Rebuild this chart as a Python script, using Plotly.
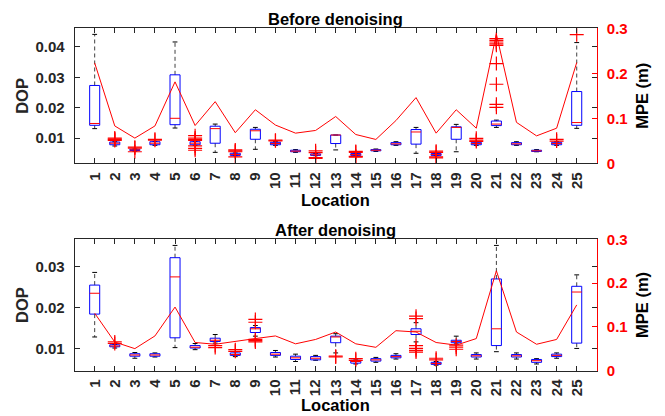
import plotly.graph_objects as go
from plotly.subplots import make_subplots

# ---------------- data ----------------
locations = list(range(1, 26))
tick_labels = [str(i) for i in locations]

# Before denoising (DOP box statistics)
b_q1  = [0.0142, 0.0078, 0.0059, 0.0078, 0.0144, 0.0078, 0.0083, 0.0043, 0.0096, 0.0078,
         0.0055, 0.0043, 0.0082, 0.0043, 0.0058, 0.0078, 0.0080, 0.0043, 0.0096, 0.0078,
         0.0141, 0.0078, 0.0056, 0.0078, 0.0142]
b_med = [0.0148, 0.0083, 0.0061, 0.0083, 0.0165, 0.0083, 0.0131, 0.0046, 0.0124, 0.0082,
         0.0057, 0.0045, 0.0110, 0.0046, 0.0060, 0.0081, 0.0120, 0.0046, 0.0135, 0.0082,
         0.0146, 0.0081, 0.0058, 0.0082, 0.0151]
b_q3  = [0.0273, 0.0087, 0.0063, 0.0088, 0.0308, 0.0088, 0.0139, 0.0050, 0.0129, 0.0086,
         0.0060, 0.0048, 0.0110, 0.0049, 0.0062, 0.0085, 0.0128, 0.0049, 0.0137, 0.0086,
         0.0156, 0.0085, 0.0060, 0.0086, 0.0253]
b_lo  = [0.0131, 0.0074, 0.0057, 0.0076, 0.0133, 0.0076, 0.0053, 0.0042, 0.0063, 0.0076,
         0.0053, 0.0042, 0.0061, 0.0042, 0.0056, 0.0076, 0.0050, 0.0042, 0.0055, 0.0076,
         0.0135, 0.0076, 0.0055, 0.0076, 0.0132]
b_hi  = [0.0441, 0.0088, 0.0064, 0.0089, 0.0416, 0.0089, 0.0146, 0.0051, 0.0135, 0.0088,
         0.0062, 0.0049, 0.0110, 0.0050, 0.0064, 0.0088, 0.0135, 0.0050, 0.0145, 0.0088,
         0.0159, 0.0088, 0.0062, 0.0088, 0.0414]
b_out = [[], [0.0092, 0.0095, 0.0097, 0.0100], [0.0070, 0.0067, 0.0055], [0.0093, 0.0096], [],
         [0.0108, 0.0100, 0.0095, 0.0092, 0.0074, 0.0066, 0.0060], [], [0.0058, 0.0061, 0.0055, 0.0038], [], [0.0091, 0.0093],
         [], [0.0058, 0.0052, 0.0036, 0.0033], [], [0.0053, 0.0056, 0.0040, 0.0037], [],
         [], [], [0.0057, 0.0053, 0.0038, 0.0035], [], [0.0099, 0.0093, 0.0089],
         [0.0427, 0.0421, 0.0416, 0.0410, 0.0405, 0.0345, 0.0277, 0.0211, 0.0201], [], [], [0.0096, 0.0090], [0.0440]]
b_mpe = [0.223, 0.083, 0.056, 0.083, 0.181, 0.084, 0.137, 0.068, 0.119, 0.085,
         0.067, 0.073, 0.104, 0.064, 0.053, 0.095, 0.146, 0.067, 0.119, 0.078,
         0.287, 0.091, 0.061, 0.078, 0.224]

# After denoising (DOP box statistics)
a_q1  = [0.0184, 0.0104, 0.0081, 0.0081, 0.0126, 0.0101, 0.0117, 0.0083, 0.0139, 0.0083,
         0.0073, 0.0072, 0.0114, 0.0064, 0.0069, 0.0077, 0.0134, 0.0061, 0.0114, 0.0079,
         0.0107, 0.0079, 0.0066, 0.0080, 0.0113]
a_med = [0.0235, 0.0106, 0.0084, 0.0084, 0.0275, 0.0103, 0.0120, 0.0085, 0.0148, 0.0086,
         0.0077, 0.0076, 0.0128, 0.0068, 0.0072, 0.0080, 0.0142, 0.0063, 0.0117, 0.0082,
         0.0148, 0.0082, 0.0070, 0.0083, 0.0238]
a_q3  = [0.0255, 0.0109, 0.0087, 0.0087, 0.0322, 0.0107, 0.0125, 0.0089, 0.0151, 0.0090,
         0.0081, 0.0080, 0.0130, 0.0071, 0.0075, 0.0083, 0.0148, 0.0066, 0.0120, 0.0085,
         0.0270, 0.0085, 0.0073, 0.0086, 0.0252]
a_lo  = [0.0128, 0.0101, 0.0076, 0.0079, 0.0102, 0.0097, 0.0113, 0.0080, 0.0130, 0.0079,
         0.0068, 0.0071, 0.0089, 0.0062, 0.0066, 0.0074, 0.0116, 0.0059, 0.0111, 0.0074,
         0.0092, 0.0074, 0.0062, 0.0076, 0.0100]
a_hi  = [0.0286, 0.0110, 0.0090, 0.0089, 0.0352, 0.0112, 0.0134, 0.0092, 0.0156, 0.0095,
         0.0086, 0.0083, 0.0136, 0.0074, 0.0078, 0.0087, 0.0163, 0.0068, 0.0130, 0.0089,
         0.0352, 0.0089, 0.0075, 0.0089, 0.0280]
a_out = [[], [0.0116, 0.0112], [], [], [],
         [], [0.0107, 0.0102], [0.0097, 0.0093], [0.0171, 0.0164, 0.0122, 0.0119, 0.0116], [],
         [], [], [0.0081, 0.0079], [0.0075, 0.0071], [],
         [], [0.0179, 0.0173, 0.0107, 0.0100, 0.0095, 0.0091], [0.0076, 0.0072], [0.0108, 0.0103, 0.0098], [],
         [], [], [], [], []]
a_mpe = [0.131, 0.065, 0.050, 0.079, 0.145, 0.064, 0.060, 0.067, 0.073, 0.079,
         0.061, 0.071, 0.088, 0.061, 0.053, 0.091, 0.088, 0.064, 0.058, 0.073,
         0.228, 0.088, 0.060, 0.071, 0.150]

titles = ["Before denoising", "After denoising"]
left_ranges = [[0.0017, 0.0461], [0.0046, 0.0367]]
left_ticks = [[0.01, 0.02, 0.03, 0.04], [0.01, 0.02, 0.03]]
right_ticks = [0, 0.1, 0.2, 0.3]
right_ticktext = ["0", "0.1", "0.2", "0.3"]

# ---------------- figure ----------------
FONT = "Liberation Sans, Arial, Helvetica, sans-serif"
TXT = "#262626"
W, H = 665, 416
BOX_HW = 0.25
CAP_HW = 0.12

fig = make_subplots(rows=2, cols=1, specs=[[{"secondary_y": True}], [{"secondary_y": True}]])


def add_panel(row, q1, med, q3, lo, hi, outs, mpe):
    bx, by, mx, my, wx, wy, cx, cy, ox, oy = [], [], [], [], [], [], [], [], [], []
    for i, x in enumerate(locations):
        bx += [x - BOX_HW, x + BOX_HW, x + BOX_HW, x - BOX_HW, x - BOX_HW, None]
        by += [q1[i], q1[i], q3[i], q3[i], q1[i], None]
        mx += [x - BOX_HW, x + BOX_HW, None]
        my += [med[i], med[i], None]
        wx += [x, x, None, x, x, None]
        wy += [q3[i], hi[i], None, q1[i], lo[i], None]
        cx += [x - CAP_HW, x + CAP_HW, None, x - CAP_HW, x + CAP_HW, None]
        cy += [hi[i], hi[i], None, lo[i], lo[i], None]
        for v in outs[i]:
            ox.append(x)
            oy.append(v)
    common = dict(mode="lines", hoverinfo="skip", showlegend=False)
    fig.add_trace(go.Scatter(x=wx, y=wy, line=dict(color="#404040", width=1, dash="4px,3px"), **common),
                  row=row, col=1, secondary_y=False)
    fig.add_trace(go.Scatter(x=cx, y=cy, line=dict(color="black", width=1), **common),
                  row=row, col=1, secondary_y=False)
    fig.add_trace(go.Scatter(x=bx, y=by, line=dict(color="#0000ff", width=1), **common),
                  row=row, col=1, secondary_y=False)
    fig.add_trace(go.Scatter(x=mx, y=my, line=dict(color="#ff0000", width=1), **common),
                  row=row, col=1, secondary_y=False)
    fig.add_trace(go.Scatter(x=ox, y=oy, mode="markers", hoverinfo="skip", showlegend=False,
                             marker=dict(symbol="cross-thin", size=10,
                                         line=dict(color="#ff0000", width=1.2))),
                  row=row, col=1, secondary_y=False)
    fig.add_trace(go.Scatter(x=locations, y=mpe, mode="lines", hoverinfo="skip", showlegend=False,
                             line=dict(color="#ff0000", width=1)),
                  row=row, col=1, secondary_y=True)


add_panel(1, b_q1, b_med, b_q3, b_lo, b_hi, b_out, b_mpe)
add_panel(2, a_q1, a_med, a_q3, a_lo, a_hi, a_out, a_mpe)

# panel geometry in pixels
x0, x1 = 74.6, 596.8
panels = [(28.3, 163.3), (239.3, 370.5)]

tickfont = dict(family=FONT, size=15, color=TXT, weight="bold")
xaxes = ["xaxis", "xaxis2"]
yl = ["yaxis", "yaxis3"]
yr = ["yaxis2", "yaxis4"]
for k, (top, bot) in enumerate(panels):
    dom_y = [1 - bot / H, 1 - top / H]
    fig.update_layout(**{
        xaxes[k]: dict(domain=[x0 / W, x1 / W], range=[0, 26], tickvals=locations, ticktext=tick_labels,
                       tickangle=-90, ticks="inside", ticklen=5, tickcolor=TXT, showline=True,
                       linecolor=TXT, linewidth=1, mirror="ticks", showgrid=False, zeroline=False,
                       tickfont=tickfont, automargin=False, ticklabelstandoff=2),
        yl[k]: dict(domain=dom_y, range=left_ranges[k], tickvals=left_ticks[k],
                    ticktext=["%.2f" % v for v in left_ticks[k]],
                    ticks="inside", ticklen=5, tickcolor=TXT, showline=True, linecolor=TXT,
                    linewidth=1, mirror="ticks", showgrid=False, zeroline=False,
                    tickfont=tickfont, automargin=False, ticklabelstandoff=6),
        yr[k]: dict(range=[0, 0.3], tickvals=right_ticks, ticktext=right_ticktext,
                    ticks="inside", ticklen=5, tickcolor="#ff0000", showline=True,
                    linecolor="#ff0000", linewidth=1, showgrid=False, zeroline=False,
                    tickfont=dict(family=FONT, size=15, color="#ff0000", weight="bold"),
                    automargin=False, ticklabelstandoff=6),
    })

# text annotations: titles and axis labels
def ann(text, px, py, angle=0, size=16.5, color="black"):
    fig.add_annotation(text=text, x=px / W, y=1 - py / H, xref="paper", yref="paper",
                       showarrow=False, textangle=angle, xanchor="center", yanchor="middle",
                       font=dict(family=FONT, size=size, color=color, weight="bold"))

xc = (x0 + x1) / 2
ann(titles[0], xc, 18.5)
ann(titles[1], xc, 229.5)
ann("Location", xc, 200)
ann("Location", xc, 405)
for top, bot in panels:
    ann("DOP", 22, (top + bot) / 2, angle=-90, color=TXT)
    ann("MPE (m)", 642, (top + bot) / 2, angle=-90, color="black")

fig.update_layout(width=W, height=H, margin=dict(l=0, r=0, t=0, b=0),
                  paper_bgcolor="white", plot_bgcolor="white", showlegend=False,
                  hovermode=False)

fig.write_html("out.html", config={"displayModeBar": False},
               post_script="document.body.style.margin='0px';document.body.style.overflow='hidden';")
